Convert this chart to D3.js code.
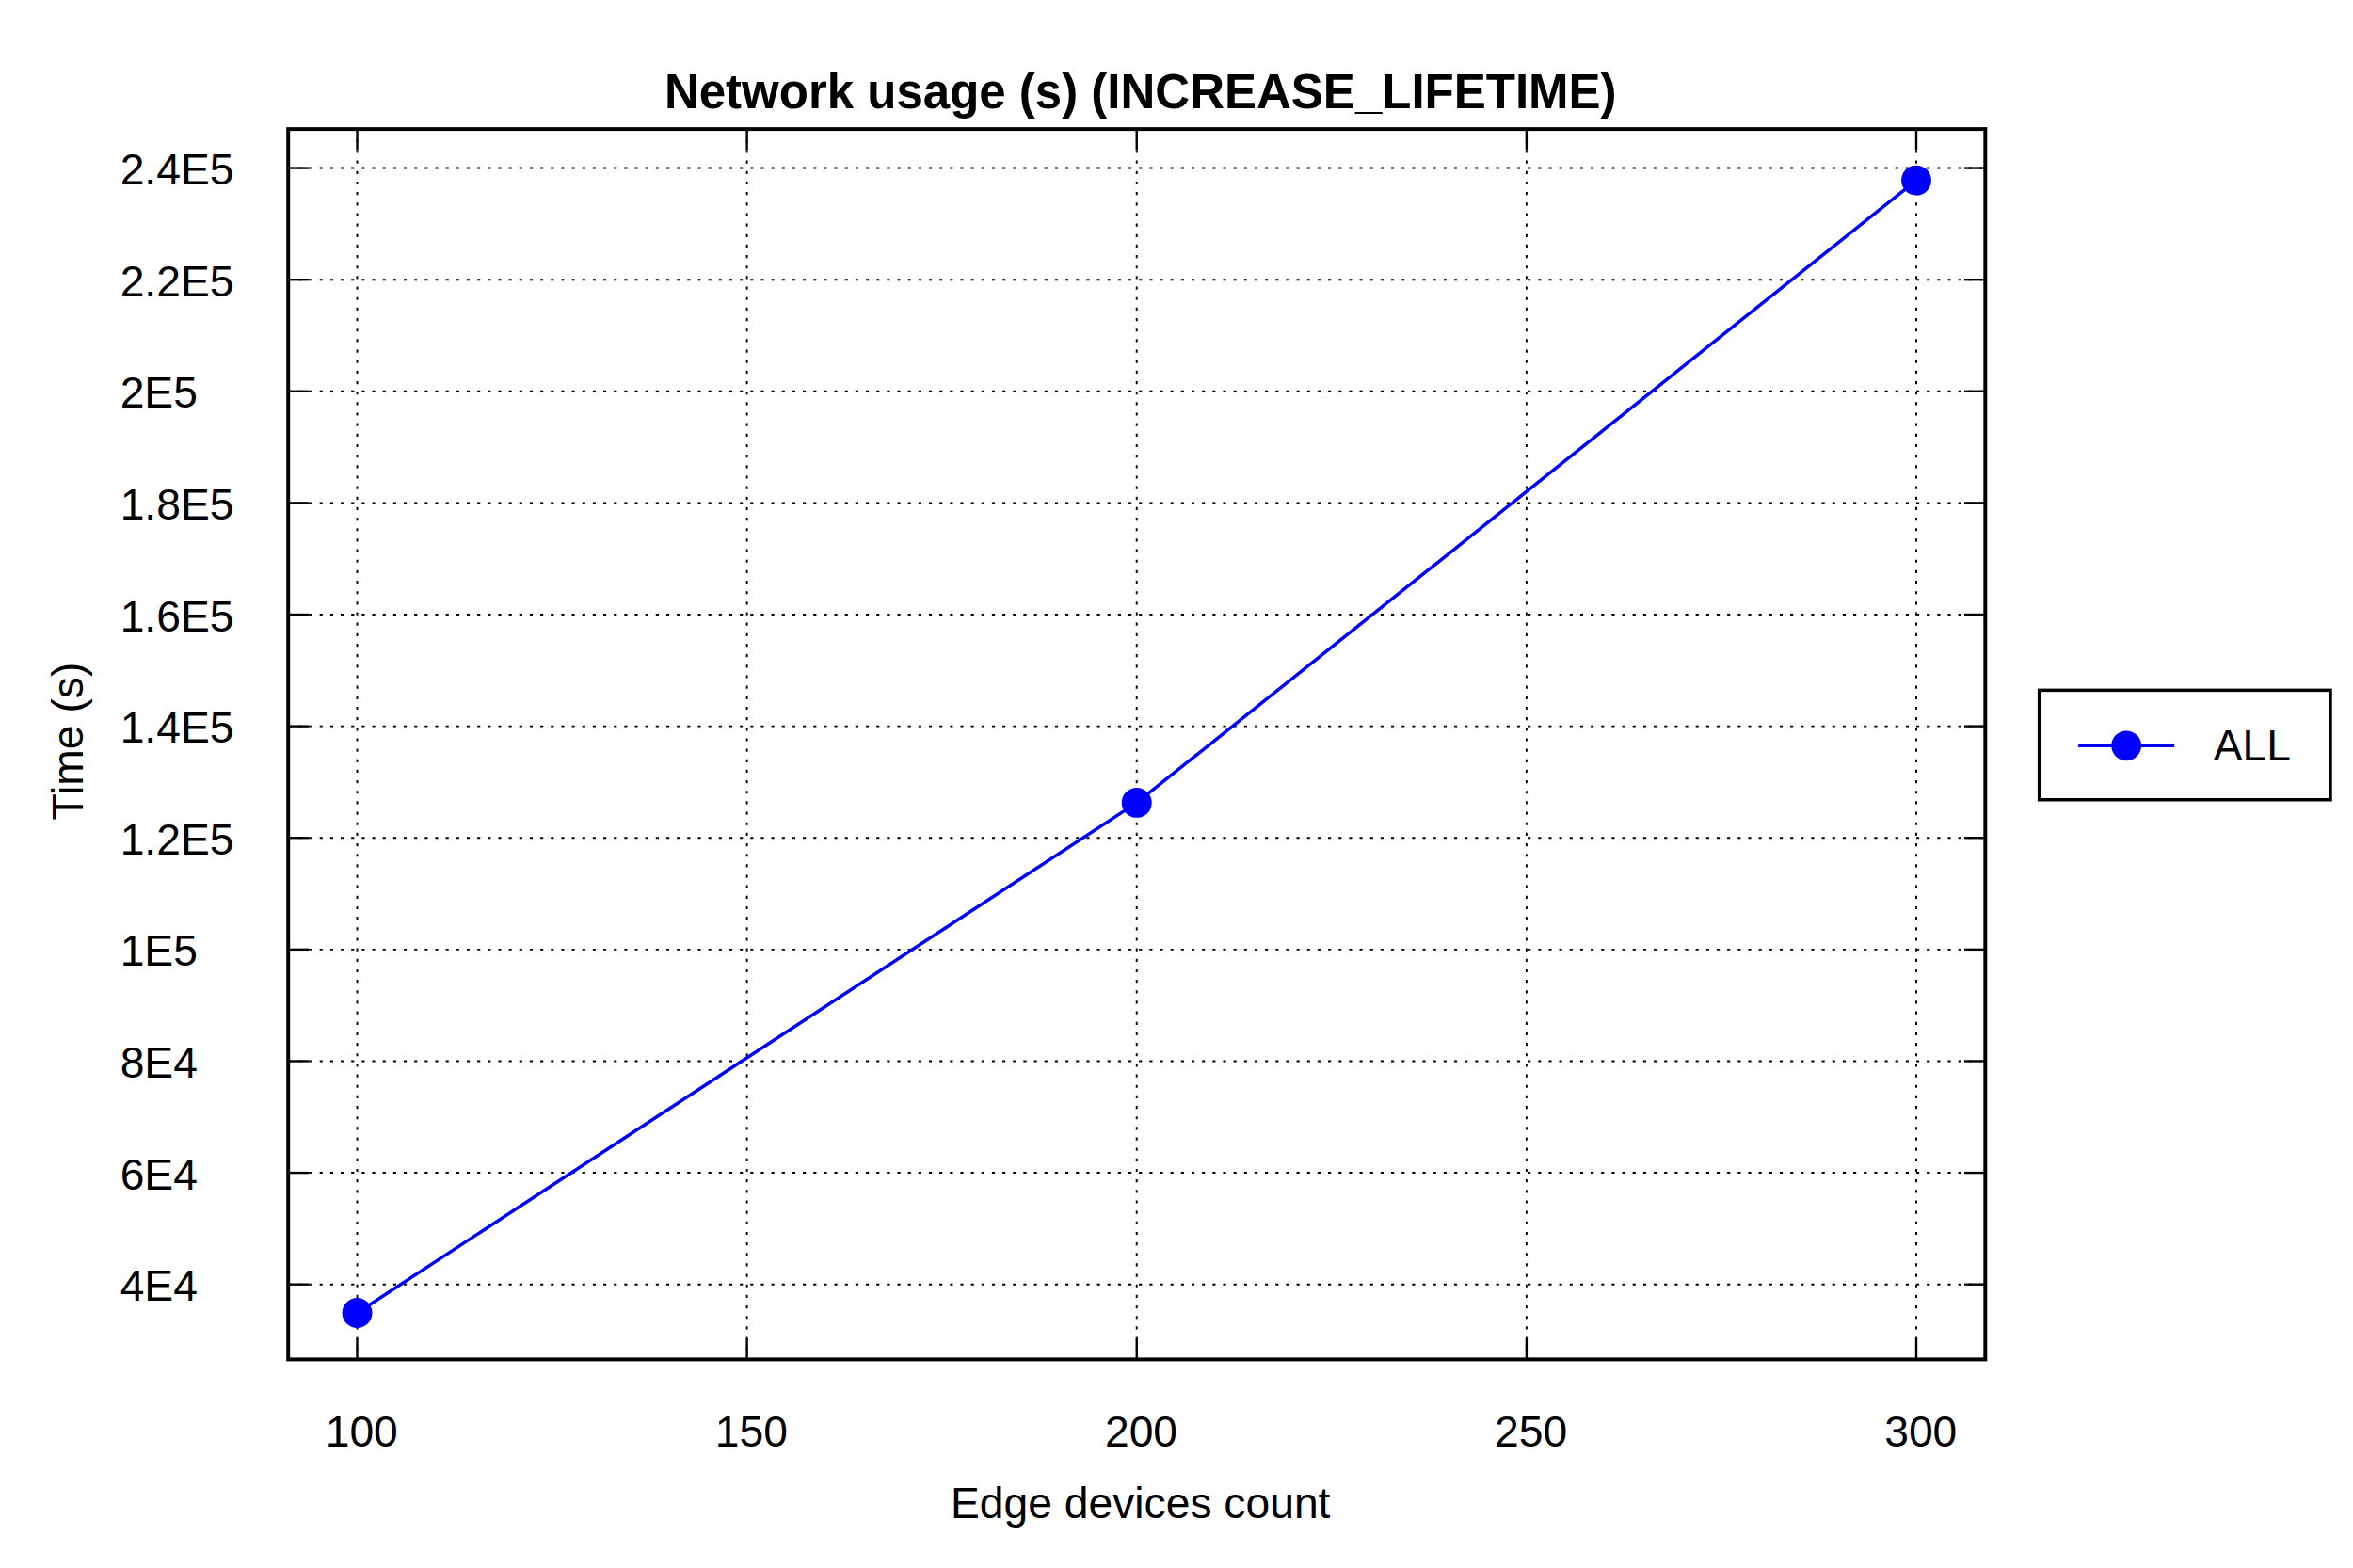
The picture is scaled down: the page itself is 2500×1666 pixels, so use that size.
<!DOCTYPE html>
<html><head><meta charset="utf-8">
<script src="https://cdn.jsdelivr.net/npm/d3@7"></script>
<style>body{margin:0;background:#fff}text{font-family:"Liberation Sans",Arial,sans-serif}</style>
</head><body>
<script>
// data
var devices = [100, 200, 300];
var usage = [34900, 126300, 237800];
var xTicks = [100, 150, 200, 250, 300];
var yTicks = [40000, 60000, 80000, 100000, 120000, 140000, 160000, 180000, 200000, 220000, 240000];
var yLabels = ["4E4", "6E4", "8E4", "1E5", "1.2E5", "1.4E5", "1.6E5", "1.8E5", "2E5", "2.2E5", "2.4E5"];

var W = 1568, H = 1045;
var L = 192, R = 1323, T = 86, B = 906;
var svg = d3.select("body").append("svg")
    .attr("width", 2500).attr("height", 1666)
    .attr("viewBox", "0 0 " + W + " " + H);

var x = d3.scaleLinear().domain([91.15, 308.85]).range([L, R]);
var y = d3.scaleLinear().domain([26560, 246990]).range([B, T]);

var g = svg.append("g");
// grid
g.selectAll(".gx").data(xTicks).enter().append("line")
    .attr("x1", d => x(d)).attr("x2", d => x(d)).attr("y1", T).attr("y2", B)
    .attr("stroke", "#000").attr("stroke-width", 1.2).attr("stroke-dasharray", "2,5");
g.selectAll(".gy").data(yTicks).enter().append("line")
    .attr("y1", d => y(d)).attr("y2", d => y(d)).attr("x1", L).attr("x2", R)
    .attr("stroke", "#000").attr("stroke-width", 1.2).attr("stroke-dasharray", "2,5");
// inward ticks
var tk = 14;
xTicks.forEach(function(d){
    g.append("line").attr("x1", x(d)).attr("x2", x(d)).attr("y1", B).attr("y2", B - tk).attr("stroke", "#000").attr("stroke-width", 1.5);
    g.append("line").attr("x1", x(d)).attr("x2", x(d)).attr("y1", T).attr("y2", T + tk).attr("stroke", "#000").attr("stroke-width", 1.5);
});
yTicks.forEach(function(d){
    g.append("line").attr("y1", y(d)).attr("y2", y(d)).attr("x1", L).attr("x2", L + tk).attr("stroke", "#000").attr("stroke-width", 1.5);
    g.append("line").attr("y1", y(d)).attr("y2", y(d)).attr("x1", R).attr("x2", R - tk).attr("stroke", "#000").attr("stroke-width", 1.5);
});
g.append("rect").attr("x", L).attr("y", T).attr("width", R - L).attr("height", B - T)
    .attr("fill", "none").attr("stroke", "#000").attr("stroke-width", 2.5);

// tick labels
g.selectAll(".xl").data(xTicks).enter().append("text")
    .attr("x", d => x(d) + 3).attr("y", 964).attr("text-anchor", "middle")
    .attr("font-size", 29).text(d => d);
g.selectAll(".yl").data(yTicks).enter().append("text")
    .attr("x", 80).attr("y", d => y(d) + 11)
    .attr("font-size", 29).text((d, i) => yLabels[i]);

// titles
svg.append("text").attr("x", 760).attr("y", 72).attr("text-anchor", "middle")
    .attr("font-size", 32).attr("font-weight", "bold").text("Network usage (s) (INCREASE_LIFETIME)");
svg.append("text").attr("x", 760).attr("y", 1012).attr("text-anchor", "middle")
    .attr("font-size", 29).text("Edge devices count");
svg.append("text").attr("transform", "translate(55,494) rotate(-90)").attr("text-anchor", "middle")
    .attr("font-size", 29).text("Time (s)");

// series
var pts = devices.map((d, i) => [d, usage[i]]);
svg.append("path").datum(pts)
    .attr("d", d3.line().x(d => x(d[0])).y(d => y(d[1])))
    .attr("fill", "none").attr("stroke", "#0000ff").attr("stroke-width", 2.2);
svg.selectAll(".pt").data(pts).enter().append("circle")
    .attr("cx", d => x(d[0])).attr("cy", d => y(d[1])).attr("r", 10).attr("fill", "#0000ff");

// legend
var lg = svg.append("g");
lg.append("rect").attr("x", 1359).attr("y", 460).attr("width", 194).attr("height", 73)
    .attr("fill", "#fff").attr("stroke", "#000").attr("stroke-width", 2.2);
lg.append("line").attr("x1", 1385).attr("x2", 1449).attr("y1", 497).attr("y2", 497)
    .attr("stroke", "#0000ff").attr("stroke-width", 2.2);
lg.append("circle").attr("cx", 1417).attr("cy", 497).attr("r", 10).attr("fill", "#0000ff");
lg.append("text").attr("x", 1475).attr("y", 507).attr("font-size", 29).text("ALL");
</script>
</body></html>
